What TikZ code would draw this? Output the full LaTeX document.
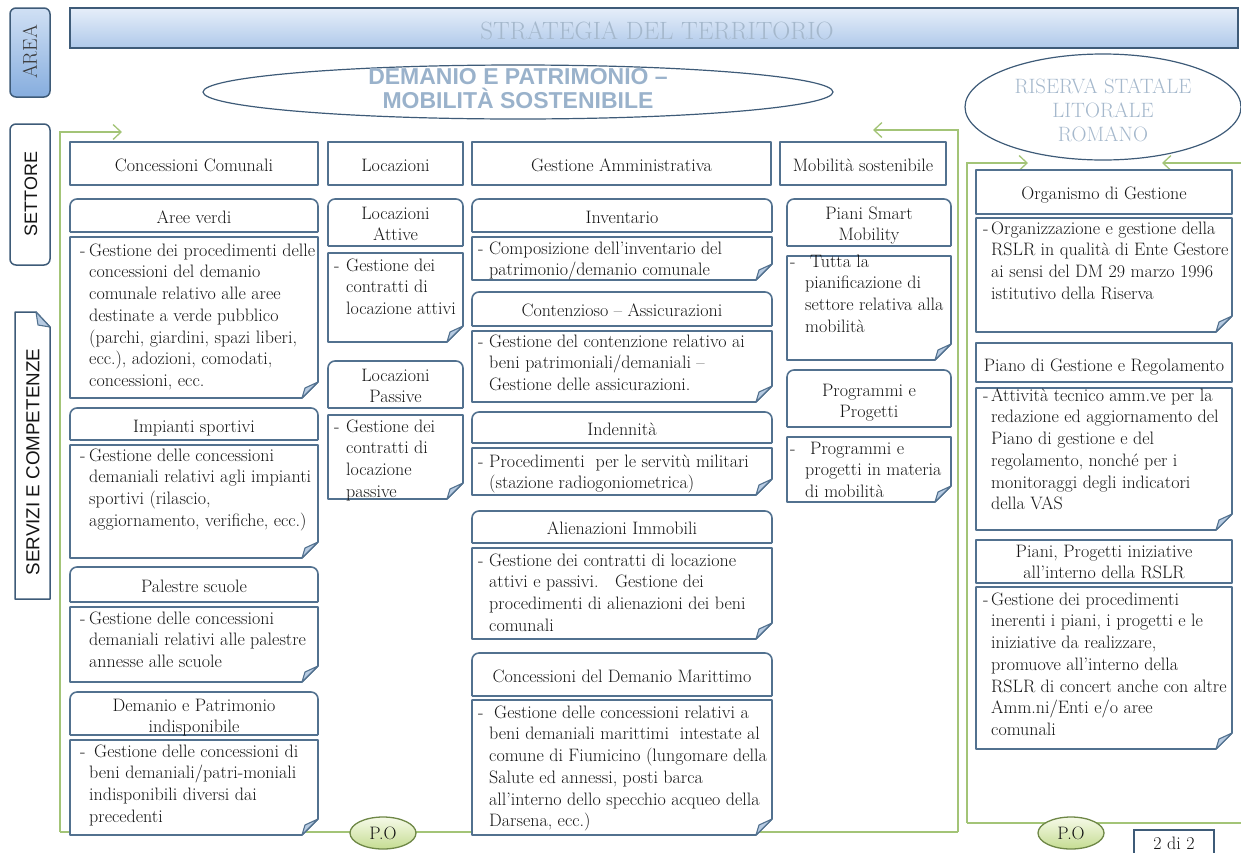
\documentclass[tikz,border=0pt]{standalone}
\usepackage{fontspec}
\newfontfamily\arialf{Liberation Sans}
\usetikzlibrary{arrows.meta,shapes.geometric}
\definecolor{bord}{HTML}{52718F}
\definecolor{foldc}{HTML}{B7CBE2}
\definecolor{grn}{HTML}{A3C477}
\definecolor{txt}{HTML}{151515}
\definecolor{ttl}{HTML}{A5B8CC}
\definecolor{dem}{HTML}{9AB2CB}
\definecolor{ell}{HTML}{3E5B78}
\definecolor{areaT}{HTML}{D0E0F4}
\definecolor{areaB}{HTML}{86ADDE}
\definecolor{barT}{HTML}{E6EEF9}
\definecolor{barB}{HTML}{AFC9EA}
\definecolor{poT}{HTML}{F6FAE8}
\definecolor{poB}{HTML}{C5DC92}
\definecolor{poD}{HTML}{6E8746}
\newcommand\bodyfont{\fontsize{18}{21.7}\selectfont}
\newlength\dw
\def\ox{6}
\newcommand\dsh{\strut\makebox[\dw][l]{-}}
\newcommand\ind{\strut\hspace*{\dw}}
\tikzset{
 bx/.style={draw=bord,line width=1.6pt,line join=round},
 foldst/.style={draw=bord,line width=1.1pt,fill=foldc,line join=round},
 ht/.style={font=\bodyfont,text=txt,align=center,inner sep=0pt,anchor=north},
 bt/.style={font=\bodyfont,text=txt,align=left,inner sep=0pt,anchor=north west},
 grnl/.style={draw=grn,line width=1.4pt},
 garr/.style={grnl,-{Straight Barb[length=8pt,width=15pt,line width=1.3pt]}},
 poell/.style={ellipse,draw=poD,line width=1.3pt,top color=poT,bottom color=poB,minimum width=66pt,minimum height=32pt,inner sep=0pt,font=\bodyfont,text=txt},
}
% rounded-top header: name,x1,y1,x2,y2,baseline,text
\newcommand\rhdr[7]{%
  \draw[bx,rounded corners=7pt] (#2,#5) -- (#2,#3) -- (#4,#3) -- (#4,#5);
  \draw[bx] (#2,#5) -- (#4,#5);
  \node[ht] (#1) at ({(#2+#4)/2},#6-15.19) {\strut #7};}
% square header
\newcommand\shdr[7]{%
  \draw[bx,fill=white] (#2,#3) rectangle (#4,#5);
  \node[ht] (#1) at ({(#2+#4)/2},#6-15.19) {\strut #7};}
% folded body box
\newcommand\bbox[7]{%
  \draw[bx,fill=white] (#2,#3) -- (#4,#3) -- (#4,#5-16) -- (#4-16,#5) -- (#2,#5) -- cycle;
  \draw[foldst] (#4-16,#5) -- (#4,#5-16) -- (#4-13,#5-10) -- cycle;
  \node[bt] (#1) at (#2+\ox,#6-15.19) {#7};}
\begin{document}
\begin{tikzpicture}[x=1pt,y=-1pt]
\useasboundingbox (0,0) rectangle (1241,852);
% ---- left labels
\draw[rounded corners=6pt,draw=ell,line width=1.5pt,top color=areaT,bottom color=areaB] (10,8) rectangle (50,97);
\node[rotate=90,font=\fontsize{20}{22}\selectfont,text=txt!85] (area) at (30,52) {AREA};
\draw[rounded corners=6pt,draw=ell,line width=1.5pt,fill=white] (10,124) rectangle (50,265);
\node[rotate=90,font=\arialf\fontsize{18}{20}\selectfont,text=txt] (settore) at (31,194) {SETTORE};
\draw[draw=ell,line width=1.5pt,fill=white,line join=round] (15,312) -- (36,312) -- (50,327) -- (50,599) -- (15,599) -- cycle;
\draw[foldst] (36,312) -- (50,327) -- (38,325) -- cycle;
\node[rotate=90,font=\arialf\fontsize{18.8}{20}\selectfont,text=txt] (servizi) at (33,462) {SERVIZI E COMPETENZE};
% ---- title bar
\draw[draw=ell,line width=1.5pt,top color=barT,bottom color=barB] (70,8) rectangle (1238,48);
\node[font=\fontsize{25}{26}\selectfont,text=ttl] (title) at (657,31) {STRATEGIA DEL TERRITORIO};
% ---- ellipses
\node[ellipse,draw=ell,line width=1.2pt,minimum width=630pt,minimum height=54pt,inner sep=0pt] (e1) at (518,92) {};
\node[font=\arialf\bfseries\fontsize{23}{24}\selectfont,text=dem,align=center] (dem) at (518,89) {DEMANIO E PATRIMONIO –\\MOBILITÀ SOSTENIBILE};
\node[ellipse,draw=ell,line width=1.2pt,minimum width=276pt,minimum height=106pt,inner sep=0pt] (e2) at (1103,107) {};
\node[font=\fontsize{20.8}{24}\selectfont,text=ttl,align=center] (ris) at (1103,110) {RISERVA STATALE\\LITORALE\\ROMANO};
% ---- green frames
\coordinate (gA) at (60,832); \coordinate (gB) at (60,132); \coordinate (gC) at (122,132);
\coordinate (gD) at (958,832); \coordinate (gE) at (958,130); \coordinate (gF) at (873,130);
\draw[garr] (gA) -- (gB) -- (gC);
\draw[garr] (gD) -- (gE) -- (gF);
\draw[grnl] (gA) -- (gD);
\coordinate (hA) at (967,823); \coordinate (hB) at (967,163); \coordinate (hC) at (1028,163);
\coordinate (hD) at (1241,823); \coordinate (hE) at (1241,163); \coordinate (hF) at (1162,163);
\draw[garr] (hA) -- (hB) -- (hC);
\draw[garr] (hE) -- (hF);
\draw[grnl] (hA) -- (hD);
% ---- settore row
\shdr{sCC}{70}{142}{318}{185}{171}{Concessioni Comunali}
\shdr{sLO}{328}{142}{463}{185}{171}{Locazioni}
\shdr{sGA}{472}{142}{771}{185}{171}{Gestione Amministrativa}
\shdr{sMS}{780}{142}{946}{185}{171}{Mobilità sostenibile}
% ---- column 1
\def\ox{10}\setlength\dw{9pt}
\rhdr{hAV}{70}{199}{318}{232}{223}{Aree verdi}
\bbox{bAV}{70}{237}{318}{398}{256}{\dsh Gestione dei procedimenti delle\\\ind concessioni del demanio\\\ind comunale relativo alle aree\\\ind destinate a verde pubblico\\\ind (parchi, giardini, spazi liberi,\\\ind ecc.), adozioni, comodati,\\\ind concessioni, ecc.}
\rhdr{hIS}{70}{408}{318}{440}{432}{Impianti sportivi}
\bbox{bIS}{70}{445}{318}{558}{461}{\dsh Gestione delle concessioni\\\ind demaniali relativi agli impianti\\\ind sportivi (rilascio,\\\ind aggiornamento, verifiche, ecc.)}
\rhdr{hPS}{70}{567}{318}{602}{592}{Palestre scuole}
\bbox{bPS}{70}{607}{318}{682}{624}{\dsh Gestione delle concessioni\\\ind demaniali relativi alle palestre\\\ind annesse alle scuole}
\rhdr{hDP}{70}{692}{318}{735}{711}{Demanio e Patrimonio\\indisponibile}
\bbox{bDP}{70}{740}{318}{835}{757}{\dsh\hspace{5pt}Gestione delle concessioni di\\\ind beni demaniali/patri-moniali\\\ind indisponibili diversi dai\\\ind precedenti}
% ---- column 2
\def\ox{6}\setlength\dw{12pt}
\rhdr{hLA}{328}{199}{463}{246}{219}{Locazioni\\Attive}
\bbox{bLA}{328}{253}{463}{342}{271}{\dsh Gestione dei\\\ind contratti di\\\ind locazione attivi}
\rhdr{hLP}{328}{361}{463}{408}{381}{Locazioni\\Passive}
\bbox{bLP}{328}{415}{463}{499}{432}{\dsh Gestione dei\\\ind contratti di\\\ind locazione\\\ind passive}
% ---- column 3
\def\ox{6}\setlength\dw{11pt}
\rhdr{hIN}{472}{199}{772}{232}{223}{Inventario}
\bbox{bIN}{472}{237}{772}{280}{254}{\dsh Composizione dell’inventario del\\\ind patrimonio/demanio comunale}
\rhdr{hCA}{472}{292}{772}{326}{316}{Contenzioso – Assicurazioni}
\bbox{bCA}{472}{331}{772}{402}{347}{\dsh Gestione del contenzione relativo ai\\\ind beni patrimoniali/demaniali –\\\ind Gestione delle assicurazioni.}
\rhdr{hID}{472}{412}{772}{443}{435}{Indennità}
\bbox{bID}{472}{448}{772}{495}{467}{\dsh Procedimenti\ \ per le servitù militari\\\ind (stazione radiogoniometrica)}
\rhdr{hAI}{472}{511}{772}{543}{534}{Alienazioni Immobili}
\bbox{bAI}{472}{548}{772}{639}{566}{\dsh Gestione dei contratti di locazione\\\ind attivi e passivi.\ \ \ Gestione dei\\\ind procedimenti di alienazioni dei beni\\\ind comunali}
\rhdr{hCM}{472}{653}{772}{696}{682}{Concessioni del Demanio Marittimo}
\bbox{bCM}{472}{700}{772}{835}{718}{\dsh\hspace{5pt}Gestione delle concessioni relativi a\\\ind beni demaniali marittimi\ \ intestate al\\\ind comune di Fiumicino (lungomare della\\\ind Salute ed annessi, posti barca\\\ind all’interno dello specchio acqueo della\\\ind Darsena, ecc.)}
% ---- column 4
\def\ox{3}\setlength\dw{15pt}
\rhdr{hSM}{787}{199}{951}{246}{219}{Piani Smart\\Mobility}
\bbox{bSM}{787}{256}{951}{360}{267}{\dsh\hspace{5pt}Tutta la\\\ind pianificazione di\\\ind settore relativa alla\\\ind mobilità}
\rhdr{hPR}{787}{370}{951}{427}{396}{Programmi e\\Progetti}
\bbox{bPR}{787}{437}{951}{502}{454}{\dsh\hspace{5pt}Programmi e\\\ind progetti in materia\\\ind di mobilità}
% ---- right column
\def\ox{7}\setlength\dw{8pt}
\shdr{rOG}{976}{170}{1232}{214}{199}{Organismo di Gestione}
\bbox{bOG}{976}{218}{1232}{332}{234}{\dsh Organizzazione e gestione della\\\ind RSLR in qualità di Ente Gestore\\\ind ai sensi del DM 29 marzo 1996\\\ind istitutivo della Riserva}
\shdr{rPG}{976}{343}{1232}{382}{371}{Piano di Gestione e Regolamento}
\bbox{bPG}{976}{388}{1232}{530}{401}{\dsh Attività tecnico amm.ve per la\\\ind redazione ed aggiornamento del\\\ind Piano di gestione e del\\\ind regolamento, nonché per i\\\ind monitoraggi degli indicatori\\\ind della VAS}
\shdr{rPP}{976}{540}{1232}{583}{557}{Piani, Progetti iniziative\\all’interno della RSLR}
\bbox{bPP}{976}{587}{1232}{749}{605}{\dsh Gestione dei procedimenti\\\ind inerenti i piani, i progetti e le\\\ind iniziative da realizzare,\\\ind promuove all’interno della\\\ind RSLR di concert anche con altre\\\ind Amm.ni/Enti e/o aree\\\ind comunali}
% ---- bottom labels
\node[poell] (po1) at (383,833) {P.O};
\node[poell] (po2) at (1071,833) {P.O};
\node[draw=ell,line width=2.6pt,fill=white,minimum width=80pt,minimum height=26pt,inner sep=0pt,font=\bodyfont,text=txt] (pag) at (1174,843) {2 di 2};
\end{tikzpicture}
\end{document}
